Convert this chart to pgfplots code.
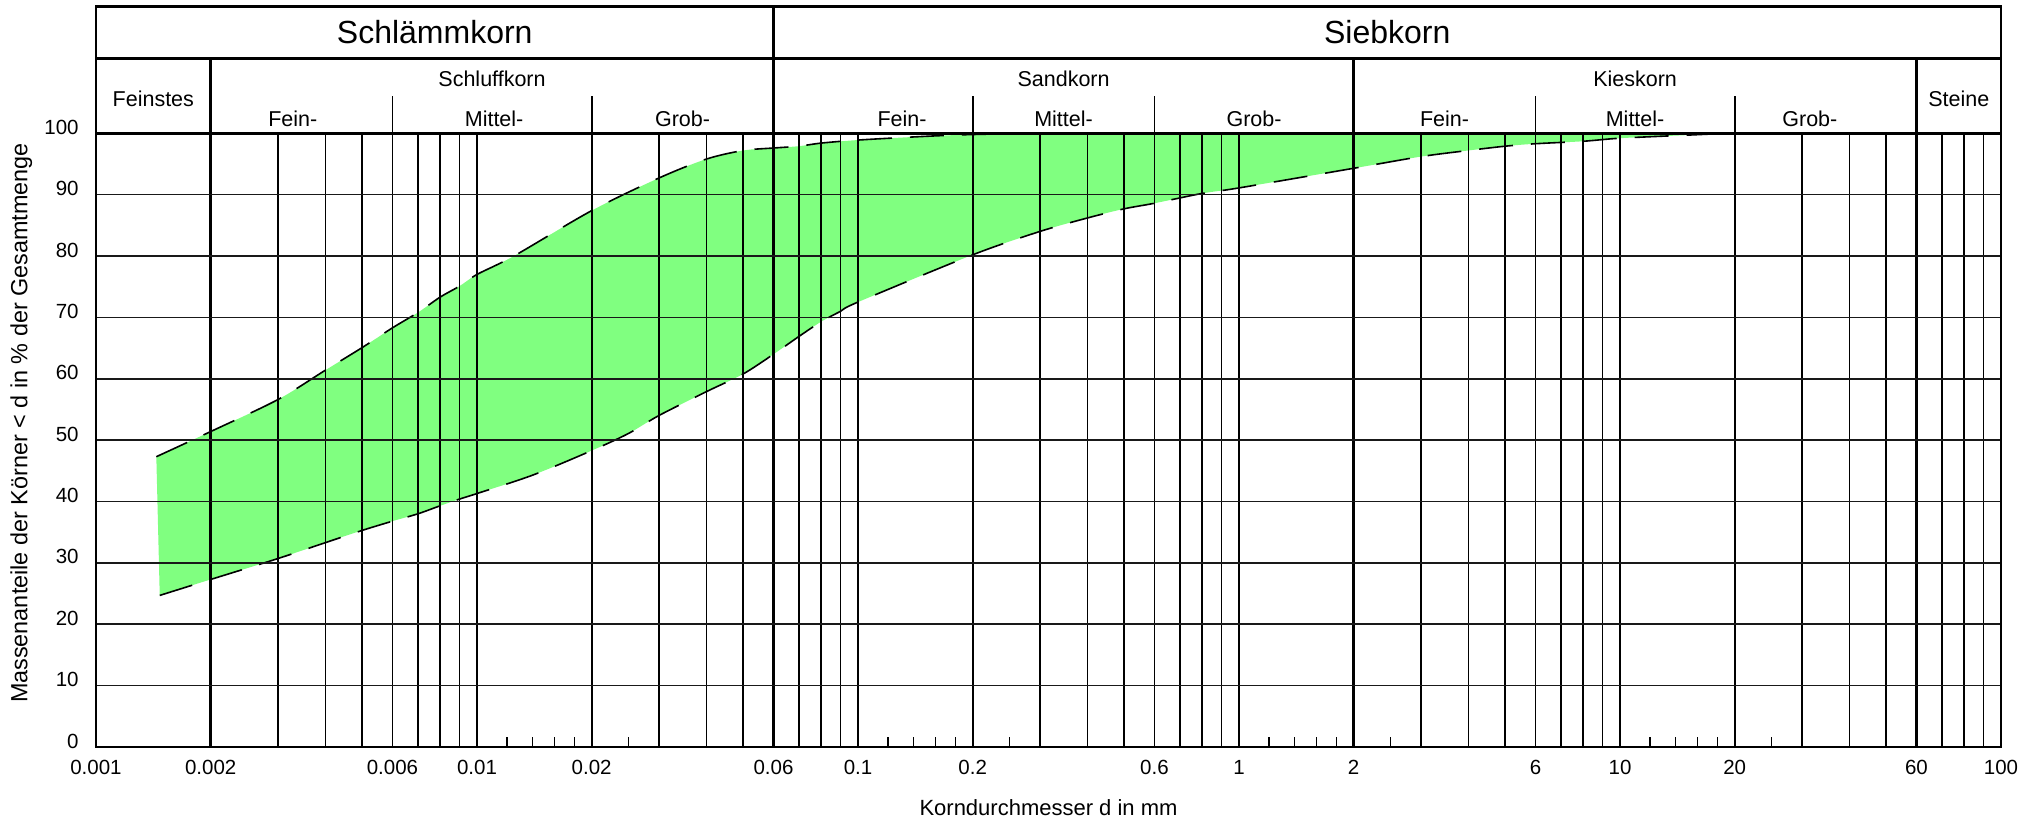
\documentclass[border=0pt]{standalone}
\usepackage{fontspec}
\setmainfont{Liberation Sans}
\usepackage{pgfplots}
\usepackage{pgfplotstable}
\pgfplotsset{compat=1.18}
\usepgfplotslibrary{fillbetween}
\definecolor{bandgreen}{RGB}{128,255,128}

\pgfplotstableread{
x y
0.00144 47.3
0.002 51.4
0.003 56.6
0.004 61.4
0.005 65.1
0.006 68.3
0.007 70.8
0.008 73.3
0.009 75.1
0.01 77.0
0.0125 80.0
0.02 87.4
0.03 92.7
0.04 95.8
0.05 97.2
0.06 97.6
0.07 97.9
0.08 98.4
0.1 98.9
0.15 99.5
0.2 99.8
0.3 100
0.5 100
}\uppercurve

\pgfplotstableread{
x y
0.00147 24.7
0.002 27.3
0.003 30.7
0.004 33.3
0.005 35.3
0.006 36.8
0.007 38.0
0.008 39.3
0.009 40.4
0.01 41.3
0.014 44.3
0.02 48.3
0.025 51.1
0.03 54.0
0.04 57.9
0.05 60.8
0.06 64.0
0.07 66.9
0.08 69.3
0.09 71.0
0.1 72.5
0.2 80.2
0.3 84.0
0.4 86.2
0.5 87.7
0.6 88.6
0.8 90.2
1 91.1
2 94.3
3 96.2
4 97.2
5 97.9
6 98.3
8 98.7
10 99.2
15 99.7
20 100
30 100
}\lowercurve

\begin{document}
\begin{tikzpicture}
\begin{axis}[
  at={(0,0)}, anchor=south west,
  scale only axis, width=952.5bp, height=306.85bp,
  xmode=log, xmin=0.001, xmax=100, ymin=0, ymax=100,
  clip=false, axis on top,
  axis line style={line width=1.45bp, black},
  xtick={0.001,0.002,0.006,0.01,0.02,0.06,0.1,0.2,0.6,1,2,6,10,20,60,100},
  xticklabels={0.001,0.002,0.006,0.01,0.02,0.06,0.1,0.2,0.6,1,2,6,10,20,60,100},
  minor xtick={0.003,0.004,0.005,0.007,0.008,0.009,0.03,0.04,0.05,0.07,0.08,0.09,0.3,0.4,0.5,0.7,0.8,0.9,3,4,5,7,8,9,30,40,50,70,80,90},
  ytick={0,10,20,30,40,50,60,70,80,90,100},
  yticklabels={0,10,20,30,40,50,60,70,80,90,100},
  extra x ticks={0.012,0.014,0.016,0.018,0.025,0.12,0.14,0.16,0.18,0.25,1.2,1.4,1.6,1.8,2.5,12,14,16,18,25},
  extra x tick labels={},
  extra x tick style={grid=none, major tick length=5bp, tick align=inside, tick style={line width=0.7bp, black}},
  tick pos=left,
  major tick length=0pt, minor tick length=0pt,
  grid=both,
  major grid style={line width=0.85bp, black},
  minor grid style={line width=0.85bp, black},
  y grid style={line width=0.8bp, black!90},
  tick label style={font=\fontsize{10.25bp}{12bp}\selectfont, text=black},
  xticklabel style={anchor=center, yshift=-10.25bp},
  yticklabel style={anchor=east, inner sep=0pt, xshift=-8.5bp, yshift=3bp},
  xlabel={Korndurchmesser d in mm},
  xlabel style={at={(axis description cs:0.5,0)}, anchor=center, yshift=-30.5bp, font=\fontsize{11bp}{13bp}\selectfont},
  ylabel={Massenanteile der Körner < d in \% der Gesamtmenge},
  ylabel style={at={(axis description cs:-0.0392,0.528)}, anchor=center, font=\fontsize{11.7bp}{14bp}\selectfont},
]
\addplot[draw=none, name path=up, smooth, tension=0.5] table {\uppercurve};
\addplot[draw=none, name path=lo, smooth, tension=0.5] table {\lowercurve};
\addplot[bandgreen, draw=none] fill between[of=up and lo];
\addplot[black, line width=0.8bp, dash pattern=on 17bp off 9bp, smooth, tension=0.5] table {\uppercurve};
\addplot[black, line width=0.8bp, dash pattern=on 17bp off 9bp, smooth, tension=0.5] table {\lowercurve};

% thick class boundaries
\draw[line width=1.35bp] (axis cs:0.002,0) -- (axis cs:0.002,112.2);
\draw[line width=1.35bp] (axis cs:2,0) -- (axis cs:2,112.2);
\draw[line width=1.35bp] (axis cs:60,0) -- (axis cs:60,112.2);
\draw[line width=1.45bp] (axis cs:0.06,0) -- (axis cs:0.06,120.66);
% header frame
\draw[line width=1.45bp] (axis cs:0.001,100) -- (axis cs:0.001,120.66) -- (axis cs:100,120.66) -- (axis cs:100,100);
\draw[line width=1.45bp] (axis cs:0.001,112.2) -- (axis cs:100,112.2);
% sub-class separators
\draw[line width=0.85bp] (axis cs:0.006,100) -- (axis cs:0.006,106);
\draw[line width=0.85bp] (axis cs:0.02,100) -- (axis cs:0.02,106);
\draw[line width=0.85bp] (axis cs:0.2,100) -- (axis cs:0.2,106);
\draw[line width=0.85bp] (axis cs:0.6,100) -- (axis cs:0.6,106);
\draw[line width=0.85bp] (axis cs:6,100) -- (axis cs:6,106);
\draw[line width=0.85bp] (axis cs:20,100) -- (axis cs:20,106);

% header texts
\node[font=\fontsize{16bp}{19bp}\selectfont] at (axis cs:0.007746,116.45) {Schlämmkorn};
\node[font=\fontsize{16bp}{19bp}\selectfont] at (axis cs:2.449,116.45) {Siebkorn};
\node[font=\fontsize{10.75bp}{13bp}\selectfont] at (axis cs:0.001414,105.6) {Feinstes};
\node[font=\fontsize{10.75bp}{13bp}\selectfont] at (axis cs:0.01095,108.8) {Schluffkorn};
\node[font=\fontsize{10.75bp}{13bp}\selectfont] at (axis cs:0.003286,102.4) {Fein-};
\node[font=\fontsize{10.75bp}{13bp}\selectfont] at (axis cs:0.01109,102.4) {Mittel-};
\node[font=\fontsize{10.75bp}{13bp}\selectfont] at (axis cs:0.03464,102.4) {Grob-};
\node[font=\fontsize{10.75bp}{13bp}\selectfont] at (axis cs:0.3464,108.8) {Sandkorn};
\node[font=\fontsize{10.75bp}{13bp}\selectfont] at (axis cs:0.1305,102.4) {Fein-};
\node[font=\fontsize{10.75bp}{13bp}\selectfont] at (axis cs:0.3464,102.4) {Mittel-};
\node[font=\fontsize{10.75bp}{13bp}\selectfont] at (axis cs:1.0954,102.4) {Grob-};
\node[font=\fontsize{10.75bp}{13bp}\selectfont] at (axis cs:10.954,108.8) {Kieskorn};
\node[font=\fontsize{10.75bp}{13bp}\selectfont] at (axis cs:3.464,102.4) {Fein-};
\node[font=\fontsize{10.75bp}{13bp}\selectfont] at (axis cs:10.954,102.4) {Mittel-};
\node[font=\fontsize{10.75bp}{13bp}\selectfont] at (axis cs:31.5,102.4) {Grob-};
\node[font=\fontsize{10.75bp}{13bp}\selectfont] at (axis cs:77.46,105.6) {Steine};
\end{axis}
\pgfresetboundingbox
\path[use as bounding box] (-48bp,-36bp) rectangle (972bp,373.5bp);
\end{tikzpicture}
\end{document}
